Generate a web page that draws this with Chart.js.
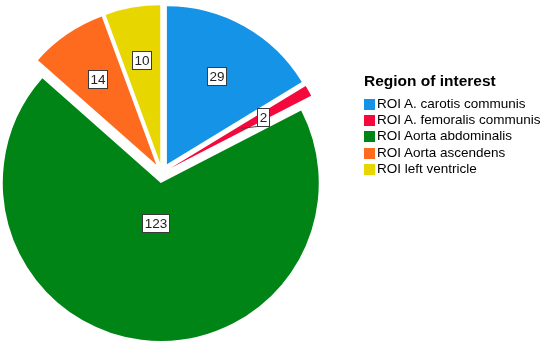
<!DOCTYPE html>
<html>
<head>
<meta charset="utf-8">
<script src="https://cdn.jsdelivr.net/npm/chart.js@4/dist/chart.umd.min.js"></script>
<style>
  body { margin: 0; background: #fff; }
  .wrap { position: relative; width: 550px; height: 348px; }
  canvas { position: absolute; left: 0; top: 0; }
  .legend { position: absolute; left: 364px; top: 72px; font-family: Arial, 'Liberation Sans', sans-serif; color: #000; }
  .legend-title { font-size: 15.5px; font-weight: bold; line-height: 18px; white-space: nowrap; }
  .legend-items { margin-top: 5px; }
  .legend-item { display: flex; align-items: center; height: 16.3px; font-size: 13.5px; white-space: nowrap; }
  .legend-box { width: 11px; height: 11px; margin-right: 2px; flex: none; position: relative; top: 1px; }
</style>
</head>
<body>
<div class="wrap">
  <canvas id="chart" width="550" height="348"></canvas>
  <div class="legend" data-component="legend">
    <div class="legend-title">Region of interest</div>
    <div class="legend-items" data-bind="items"></div>
  </div>
</div>
<script>
const categories = [
  'ROI A. carotis communis',
  'ROI A. femoralis communis',
  'ROI Aorta abdominalis',
  'ROI Aorta ascendens',
  'ROI left ventricle',
]
const counts = [29, 2, 123, 14, 10]
const sliceColors = ['#1593e6', '#f5083c', '#008416', '#ff6b1e', '#e8d600']

const EXPLODE = 10
const LABEL_FONT = "13.5px Arial, 'Liberation Sans', sans-serif"

// pull every slice out along its mid angle, keep all radii equal
const Arc = Chart.registry.getElement('arc')
const baseArcDraw = Arc.prototype.draw
Arc.prototype.draw = function (ctx) {
  const mid = (this.startAngle + this.endAngle) / 2
  ctx.save()
  ctx.translate(Math.cos(mid) * EXPLODE, Math.sin(mid) * EXPLODE)
  baseArcDraw.call(this, ctx)
  ctx.restore()
}

// value boxes at each sector's centroid
const sliceLabels = {
  id: 'sliceLabels',
  afterDatasetsDraw(chart) {
    const meta = chart.getDatasetMeta(0)
    const ctx = chart.ctx
    const values = chart.data.datasets[0].data
    const total = values.reduce((a, b) => a + b, 0)
    ctx.save()
    ctx.font = LABEL_FONT
    ctx.textAlign = 'center'
    ctx.textBaseline = 'middle'
    meta.data.forEach((arc, i) => {
      const theta = arc.endAngle - arc.startAngle
      const mid = arc.startAngle + theta / 2
      const dist = (4 * arc.outerRadius * Math.sin(theta / 2)) / (3 * theta)
      const ox = arc.x + Math.cos(mid) * EXPLODE
      const oy = arc.y + Math.sin(mid) * EXPLODE
      const cx = ox + Math.cos(mid) * dist
      const cy = oy + Math.sin(mid) * dist
      const text = String(values[i])
      const w = Math.round(ctx.measureText(text).width + 4)
      const h = 18
      const left = Math.round(cx - w / 2) + 0.5
      const top = Math.round(cy - h / 2) + 0.5

      if (values[i] / total < 0.03) {
        // small slice: short leader line back into the sector
        const px = ox + Math.cos(mid) * (dist - 24)
        const py = oy + Math.sin(mid) * (dist - 24)
        ctx.strokeStyle = '#444'
        ctx.lineWidth = 1
        ctx.beginPath()
        ctx.moveTo(left, top + h)
        ctx.lineTo(px, py)
        ctx.stroke()
      }

      ctx.fillStyle = '#fff'
      ctx.fillRect(left, top, w, h)
      ctx.strokeStyle = '#3a3a3a'
      ctx.lineWidth = 1
      ctx.strokeRect(left, top, w, h)
      ctx.fillStyle = '#222'
      ctx.fillText(text, left + w / 2, top + h / 2 + 1)
    })
    ctx.restore()
  },
}

const chart = new Chart(document.getElementById('chart'), {
  type: 'pie',
  data: {
    labels: categories,
    datasets: [{
      data: counts,
      backgroundColor: sliceColors,
      borderWidth: 0,
      offset: 0,
      hoverOffset: 0,
    }],
  },
  options: {
    responsive: false,
    animation: false,
    events: [],
    radius: 158,
    layout: { padding: { left: 0, right: 226, top: 0, bottom: 2 } },
    plugins: {
      legend: { display: false },
      tooltip: { enabled: false },
    },
  },
  plugins: [sliceLabels],
})

const itemsEl = document.querySelector('[data-bind="items"]')
categories.forEach((name, i) => {
  const row = document.createElement('div')
  row.className = 'legend-item'
  const box = document.createElement('span')
  box.className = 'legend-box'
  box.style.background = sliceColors[i]
  const label = document.createElement('span')
  label.textContent = name
  row.appendChild(box)
  row.appendChild(label)
  itemsEl.appendChild(row)
})
</script>
</body>
</html>
